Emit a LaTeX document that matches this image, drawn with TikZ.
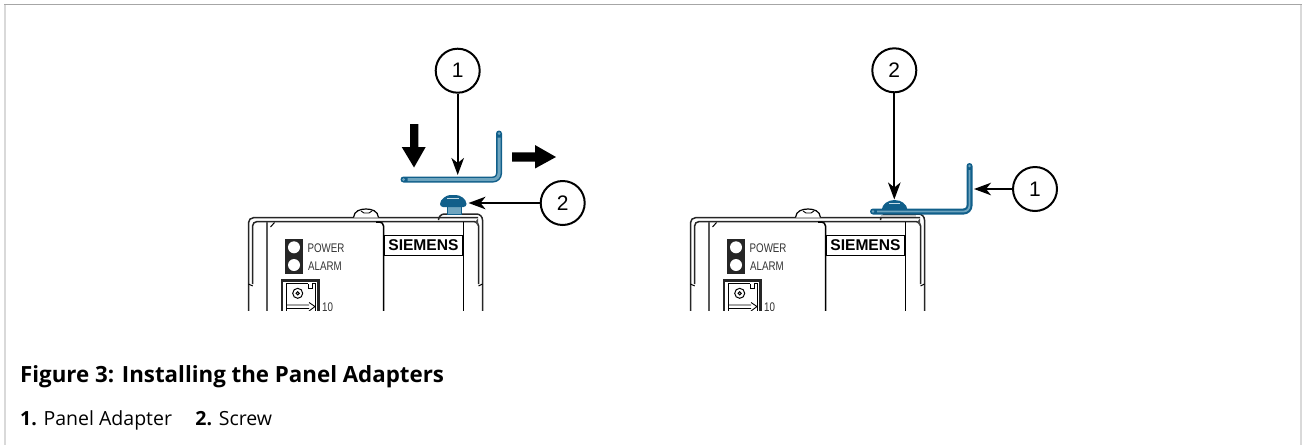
\documentclass[tikz,border=0pt]{standalone}
\usepackage{fontspec}
\setmainfont{Open Sans}
\newfontfamily\panelfont{Liberation Sans}
\usetikzlibrary{arrows.meta}
\definecolor{adapterdark}{HTML}{115F8A}
\definecolor{adapterlight}{HTML}{6FA5BF}
\definecolor{framegray}{HTML}{D9D9D9}
\tikzset{
  callout/.style={draw,circle,line width=2pt,minimum size=44pt,inner sep=0pt,fill=white,font=\fontsize{21}{21}\selectfont\panelfont},
  leader/.style={line width=2.2pt,-{Stealth[length=17pt,width=12.5pt,inset=5pt]}},
  bigarrow/.style={fill=black,draw=none},
  panelline/.style={line width=1.5pt,black!85},
  panellabel/.style={inner sep=0pt,xscale=.78,font=\fontsize{12.5}{12.5}\selectfont\panelfont,black!80},
  adapterbody/.style={line cap=round,line width=6pt,adapterdark,rounded corners=6pt},
  adapterglow/.style={line cap=butt,line width=3pt,adapterlight,rounded corners=6pt},
  device/.pic={
    \begin{scope}
    \clip (240,190) rectangle (490,310);
    % outer cover
    \draw[panelline,rounded corners=5pt] (248.5,320) -- (248.5,217.7) -- (478,217.7);
    \draw[panelline,rounded corners=6pt] (438.5,218) -- (438.5,214) -- (482.5,214) -- (482.5,320);
    \draw[panelline,rounded corners=4pt] (252.7,284) -- (252.7,221.7) -- (478.5,221.7) -- (478.5,284);
    \draw[line width=1pt] (248.5,284) -- (252.7,286) (482.5,284) -- (478.5,286);
    \fill[black!70] (475,222) -- (478,218.5) -- (478,226) -- cycle;
    \draw[line width=2.6pt,black!65] (267,222) -- (267,320);
    \draw[line width=1pt] (270.5,227) -- (274.5,222.5);
    \draw[line width=1.5pt,rounded corners=4pt] (376,222) -- (383.5,222) -- (383.5,320);
    \draw[line width=1.5pt] (463.3,222) -- (463.3,320);
    % cover screw
    \draw[line width=1.2pt,fill=white] (353.5,217.5) .. controls (354,211) and (360,209) .. (366,209) .. controls (372,209) and (378,211) .. (378.5,217.5);
    \draw[line width=.9pt] (361,211) -- (364,213) -- (369,213) -- (372,211);
    % lamps
    \fill[black!85] (285,238.5) rectangle (303,274);
    \fill[white] (294,247.3) circle (6pt) (294,265) circle (6pt);
    \node[panellabel,anchor=west] (powerlabel) at (307.5,247.7) {POWER};
    \node[panellabel,anchor=west] (alarmlabel) at (308,265.7) {ALARM};
    \node[draw,line width=1pt,fill=white,inner sep=0pt,minimum width=77.5pt,minimum height=20pt,anchor=north west,font=\fontsize{15.6}{15.6}\selectfont\panelfont\bfseries] (brandlabel) at (384.2,235) {SIEMENS};
    % port
    \draw[line width=2.2pt,black!85] (282,320) -- (282,280.5) -- (318.5,280.5) -- (318.5,320);
    \draw[line width=1pt] (286.7,320) -- (286.7,283.5) -- (315.7,283.5) -- (315.7,320);
    \fill[white] (308,283) rectangle (312,289);
    \draw[line width=.8pt] (308,284) -- (308,288) -- (312,288) -- (312,284);
    \draw[line width=1pt] (297.7,293.3) circle (5pt) (297.7,293.3) circle (1.6pt);
    \draw[line width=.9pt] (286.7,305) -- (309,305) (286.7,308.5) -- (309,308.5) (309,302.5) -- (315,306.5) -- (309,311);
    \node[panellabel,anchor=base west] (portlabel) at (322,311.5) {10};
    \end{scope}
  }
}
\begin{document}
\begin{tikzpicture}[x=1pt,y=-1pt]
\useasboundingbox (0,0) rectangle (1306,445);
% frame
\fill[framegray] (4,4) rectangle (6,445);
\fill[framegray] (1300,4) rectangle (1302,445);
\fill[black!35] (4,4) rectangle (1302,5.2);
% devices
\pic at (0,0) {device};
\pic at (442,0) {device};
% left view
\fill[adapterlight,draw=adapterdark,line width=1pt] (447.5,205) rectangle (461.5,214);
\fill[adapterdark,rounded corners=3pt] (440,207) .. controls (440,199) and (447,195) .. (453,195) .. controls (460,195) and (466.5,199) .. (466.5,207) -- cycle;
\draw[white!60!adapterlight,line width=.8pt] (447,198.5) -- (459,198.5);
\draw[adapterbody] (403.5,179.5) -- (499,179.5) -- (499,133.5);
\draw[adapterglow] (407.5,179.5) -- (499,179.5) -- (499,137.5);
\fill[adapterlight] (403.5,179.5) circle (1.5pt) (499,133.5) circle (1.5pt);
\fill[bigarrow] (410,124) -- (418.3,124) -- (418.3,147) -- (425.7,147) -- (414,167.5) -- (401.7,147) -- (410,147) -- cycle;
\fill[bigarrow] (512,152.3) -- (535,152.3) -- (535,145) -- (556,157) -- (535,168.5) -- (535,161.7) -- (512,161.7) -- cycle;
\node[callout] (adapterleft) at (457.7,70.7) {1};
\node[callout] (screwleft) at (562.7,203) {2};
\coordinate (adaptertip) at (457.7,175);
\coordinate (screwtip) at (468.5,203);
\draw[leader] (adapterleft) -- (adaptertip);
\draw[leader] (screwleft) -- (screwtip);
% right view
\fill[black!25] (881,214.8) rectangle (916,217);
\fill[adapterdark] (881.7,210) .. controls (882,204) and (888,200) .. (894.5,200) .. controls (901,200) and (907,204) .. (907.5,210) -- cycle;
\draw[white!60!adapterlight,line width=.8pt] (889,203.5) -- (900,203.5);
\draw[adapterbody] (873,211.5) -- (969.5,211.5) -- (969.5,166);
\draw[adapterglow,line width=1.8pt] (877,211.5) -- (969.5,211.5) -- (969.5,170);
\fill[adapterlight] (873,211.5) circle (1.3pt) (969.5,166) circle (1.3pt);
\node[callout] (screwright) at (894.3,70.3) {2};
\node[callout] (adapterright) at (1035,189) {1};
\coordinate (screwrighttip) at (894.3,199.5);
\coordinate (adapterrighttip) at (974,189);
\draw[leader] (screwright) -- (screwrighttip);
\draw[leader] (adapterright) -- (adapterrighttip);
% caption
\node[anchor=base west,inner sep=0pt,font=\fontsize{22.3}{22.3}\selectfont\bfseries] (figcaption) at (20,382) {Figure 3: Installing the Panel Adapters};
\node[anchor=base west,inner sep=0pt,font=\fontsize{19.5}{19.5}\selectfont] (figlegend) at (20,425) {\textbf{1.} Panel Adapter\hspace{1.2em}\textbf{2.} Screw};
\end{tikzpicture}
\end{document}
